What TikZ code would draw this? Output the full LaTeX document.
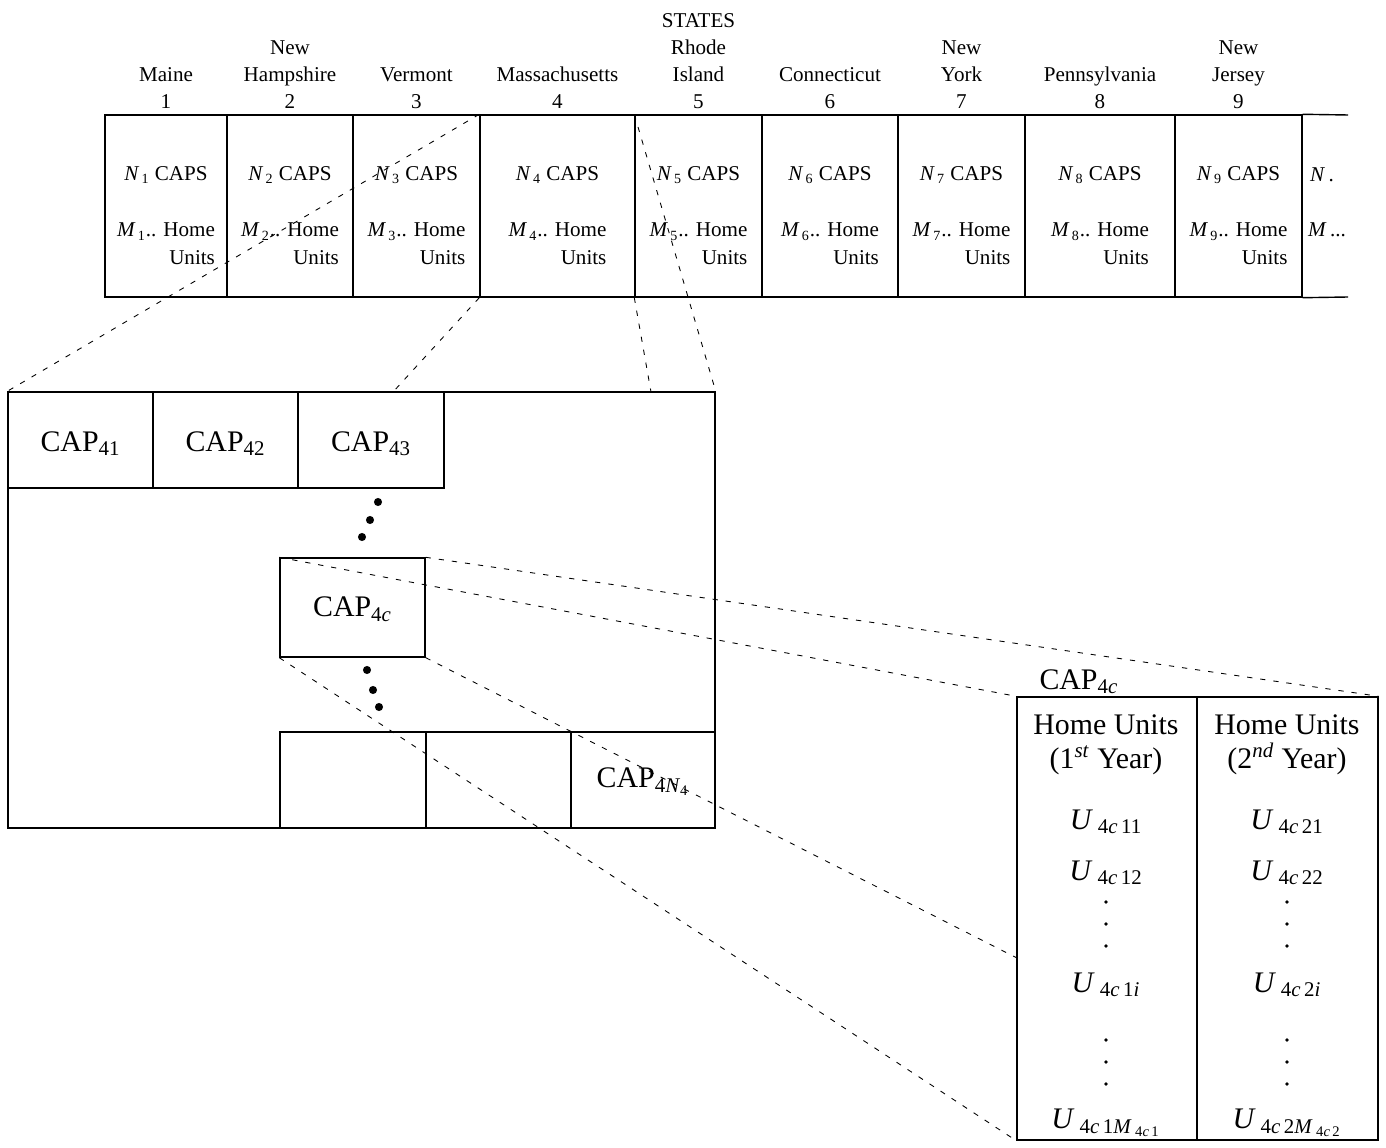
\documentclass[tikz,border=0pt]{standalone}
\usepackage{fontspec}
\setmainfont{Liberation Serif}
\usetikzlibrary{positioning,fit}

\begin{document}
\begin{tikzpicture}[
	% Define styles and settings
	x=0.02cm, y=-0.02cm,
	cell/.style={draw, line width=0.8pt, inner sep=0pt},
	statename/.style={align=center, inner sep=0pt, font=\fontsize{12}{15.3}\selectfont},
	celltext/.style={align=right, inner sep=0pt, font=\fontsize{12}{15.8}\selectfont},
	captext/.style={align=center, inner sep=0pt, font=\fontsize{17}{19.5}\selectfont},
	zoomline/.style={line width=0.5pt, dash pattern=on 3pt off 4.5pt}
	]
	\useasboundingbox (0,0) rectangle (1386,1148);

	% the row of states
	\foreach \l/\r/\i/\name in {105/227/1/Maine, 227/353/2/{New\\Hampshire}, 353/480/3/Vermont, 480/635/4/Massachusetts, 635/762/5/{STATES\\Rhode\\Island}, 762/898/6/Connecticut, 898/1025/7/{New\\York}, 1025/1175/8/Pennsylvania, 1175/1302/9/{New\\Jersey}}{
		\node[cell, fit={(\l,115) (\r,297)}] (s\i) {};
		\node[statename, above=3pt of s\i] (n\i) {\name\\\i};
		\node[celltext] (caps\i) at ({(\l+\r)/2},175) {\textit{N}\textsubscript{\,\i} CAPS};
		\node[celltext] (home\i) at ({(\l+\r)/2},244) {\textit{M}\textsubscript{\,\i}.. Home\\Units};
	}
	\coordinate (stripNE) at (1348,115);
	\coordinate (stripSE) at (1348,297);
	\draw[line width=0.8pt] (s9.north east) -- (stripNE) (s9.south east) -- (stripSE);
	\node[celltext] (capsx) at (1322,175) {\textit{N}\,.};
	\node[celltext] (homex) at (1327,230) {\textit{M}\,...};

	% Massachusetts
	\node[cell, fit={(8,392) (715,828)}] (ma) {};
	\node[cell, fit={(8,392) (153,488)}] (c41) {};
	\node[cell, fit={(153,392) (298,488)}] (c42) {};
	\node[cell, fit={(298,392) (444,488)}] (c43) {};
	\node[cell, fit={(280,558) (425,657)}] (c4c) {};
	\node[cell, fit={(280,732) (426,828)}] (b1) {};
	\node[cell, fit={(426,732) (571,828)}] (b2) {};
	\node[cell, fit={(571,732) (715,828)}] (c4n) {};
	\node[captext, yshift=-2pt] (c41t) at (c41.center) {CAP\textsubscript{41}};
	\node[captext, yshift=-2pt] (c42t) at (c42.center) {CAP\textsubscript{42}};
	\node[captext, yshift=-2pt] (c43t) at (c43.center) {CAP\textsubscript{43}};
	\node[captext, yshift=-1pt] (c4ct) at (c4c.center) {CAP\textsubscript{4\textit{c}}};
	\node[captext, yshift=-1pt] (c4nt) at (c4n.center) {CAP\textsubscript{4\textit{N}\textsubscript{4}}};
	\foreach \x/\y in {378/502, 370/520, 362/537, 367/670, 373/690, 379/707}
		\fill (\x,\y) circle[radius=2.3pt];

	% home units of one CAP
	\node[cell, fit={(1017,697) (1197,1140)}] (t1) {};
	\node[cell, fit={(1197,697) (1378,1140)}] (t2) {};
	\node[captext, above right=1pt and 13pt of t1.north west] (tcap) {CAP\textsubscript{4\textit{c}}};
	\node[captext] (hu1) at (1106,745) {Home Units\\(1\textsuperscript{\textit{st}} Year)};
	\node[captext] (hu2) at (1287,745) {Home Units\\(2\textsuperscript{\textit{nd}} Year)};
	\node[captext] (u11) at (1106,822) {\textit{U}\,\textsubscript{4\textit{c}\,11}};
	\node[captext] (u12) at (1106,873) {\textit{U}\,\textsubscript{4\textit{c}\,12}};
	\node[captext] (u1i) at (1106,985) {\textit{U}\,\textsubscript{4\textit{c}\,1\textit{i}}};
	\node[captext] (u1m) at (1106,1123) {\textit{U}\,\textsubscript{4\textit{c}\,1\textit{M}\,\textsubscript{4\textit{c}\,1}}};
	\node[captext] (u21) at (1287,822) {\textit{U}\,\textsubscript{4\textit{c}\,21}};
	\node[captext] (u22) at (1287,873) {\textit{U}\,\textsubscript{4\textit{c}\,22}};
	\node[captext] (u2i) at (1287,985) {\textit{U}\,\textsubscript{4\textit{c}\,2\textit{i}}};
	\node[captext] (u2m) at (1287,1123) {\textit{U}\,\textsubscript{4\textit{c}\,2\textit{M}\,\textsubscript{4\textit{c}\,2}}};
	\foreach \x in {1106,1287}
		\foreach \y in {902,924,946,1040,1062,1084}
			\fill (\x,\y) circle[radius=1.1pt];

	% zoom lines
	\coordinate (maA) at (393,392);
	\coordinate (maB) at (651,392);
	\coordinate (tW) at (1017,958);
	\draw[zoomline] (s4.north west) -- (ma.north west);
	\draw[zoomline] (s4.south west) -- (maA);
	\draw[zoomline] (s5.north west) -- (ma.north east);
	\draw[zoomline] (s5.south west) -- (maB);
	\draw[zoomline] (c4c.north east) -- (t2.north east);
	\draw[zoomline] (c4c.north west) -- (t1.north west);
	\draw[zoomline] (c4c.south east) -- (tW);
	\draw[zoomline] (c4c.south west) -- (t1.south west);

\end{tikzpicture}
\end{document}
